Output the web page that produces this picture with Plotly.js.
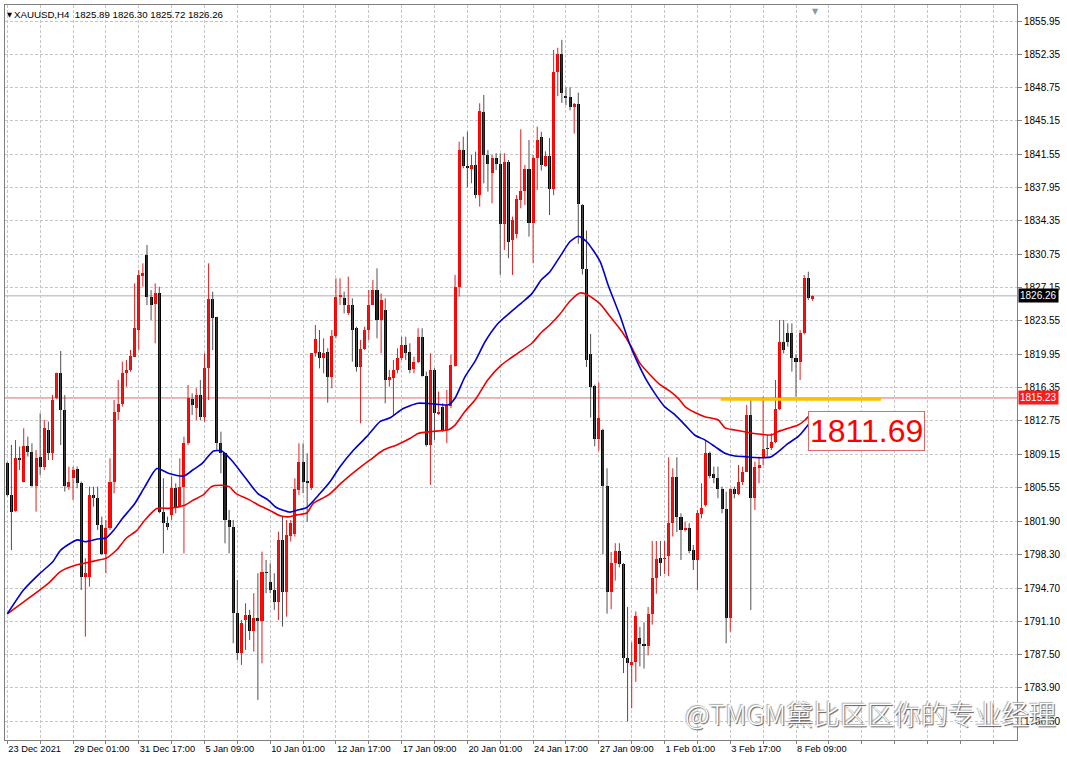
<!DOCTYPE html>
<html><head><meta charset="utf-8">
<script src="https://cdn.plot.ly/plotly-3.0.1.min.js"></script>
<style>html,body{margin:0;padding:0;background:#fff;}#chart{width:1067px;height:760px;}</style>
</head><body><div id="chart"></div>
<script>
// ---- data (XAUUSD H4) ----
const open = [
1808.17,1804.75,1803.06,1808.71,1806.19,1810.04,1809.43,1805.72,1808.82,1807.81,
1811.77,1809.25,1815.19,1817.89,1813.93,1805.65,1806.55,1807.52,1806.08,1795.86,
1795.86,1804.75,1804.39,1801.51,1798.37,1801.15,1806.12,1813.75,1814.58,1817.89,
1818.25,1819.69,1822.57,1828.4,1830.67,1826.17,1825.38,1826.53,1802.95,1801.69,
1802.59,1805.47,1803.49,1805.65,1810.33,1815.08,1814.11,1815.55,1813.21,1818.43,
1825.88,1823.94,1810.33,1809.25,1802.05,1801.33,1791.97,1787.72,1791.25,1791.79,
1790.1,1791.43,1791.17,1796.47,1795.39,1794.49,1793.23,1799.89,1794.31,1800.31,
1800.55,1805.29,1808.35,1806.26,1805.47,1820.05,1820.23,1819.51,1820.23,1817.46,
1821.92,1826.17,1825.99,1824.37,1825.27,1822.75,1818.61,1820.48,1822.57,1825.27,
1826.89,1823.65,1824.73,1817.17,1817.35,1818.25,1819.51,1820.95,1820.24,1818.33,
1819.16,1821.86,1817.6,1810.16,1818.26,1813.5,1814.3,1811.78,1814.37,1818.69,
1827.19,1842.02,1840.29,1839.96,1840.4,1837.16,1846.16,1841.48,1839.57,1841.12,
1840.5,1834.03,1840.76,1832.3,1832.94,1836.62,1837.59,1839.96,1834.1,1841.12,
1843.4,1840.31,1841.4,1837.84,1850.44,1852.35,1847.83,1847.73,1846.64,1846.97,
1836.03,1829.18,1820.0,1816.52,1810.82,1811.77,1805.73,1794.31,1797.4,1798.74,
1797.31,1787.18,1786.37,1786.7,1789.32,1788.6,1788.46,1791.93,1795.74,1797.97,
1797.78,1798.12,1801.68,1806.68,1802.41,1800.97,1801.15,1798.81,1797.73,1802.66,
1803.67,1809.25,1806.98,1806.62,1805.4,1803.24,1791.5,1805.4,1804.82,1806.19,
1807.27,1813.39,1804.39,1807.7,1808.8,1809.79,1809.79,1810.44,1814.04,1821.31,
1822.21,1822.21,1819.58,1819.08,1822.21,1828.22,1825.89];
const high = [
1808.3,1810.15,1810.69,1809.97,1811.95,1811.05,1810.33,1809.6,1813.57,1812.85,
1812.67,1815.55,1817.95,1820.3,1815.55,1807.81,1807.81,1807.81,1806.2,1797.9,
1805.65,1805.65,1805.65,1802.41,1802.05,1808.71,1815.01,1817.17,1819.15,1819.33,
1820.41,1827.61,1829.05,1829.77,1831.75,1826.89,1827.61,1827.25,1806.55,1802.41,
1806.73,1806.01,1808.71,1811.05,1816.63,1815.73,1816.27,1817.17,1820.05,1829.77,
1826.71,1824.0,1811.59,1809.3,1803.13,1802.05,1795.57,1791.25,1793.05,1792.33,
1794.13,1796.29,1798.63,1797.73,1797.37,1796.29,1800.79,1802.41,1802.05,1802.05,
1806.55,1810.33,1810.33,1809.25,1820.1,1823.11,1822.57,1821.67,1820.59,1822.57,
1828.15,1828.15,1826.71,1828.33,1825.99,1822.93,1821.49,1822.93,1826.89,1827.97,
1829.23,1826.53,1825.99,1818.25,1819.33,1820.59,1821.85,1821.85,1821.13,1819.7,
1822.76,1822.76,1818.08,1820.06,1818.44,1815.92,1814.66,1816.1,1819.88,1828.52,
1842.92,1843.46,1843.99,1841.48,1841.84,1847.06,1847.96,1842.02,1841.48,1841.66,
1841.66,1841.66,1840.94,1834.82,1837.16,1844.25,1840.4,1843.1,1841.48,1844.54,
1843.99,1841.88,1843.31,1852.82,1853.06,1853.92,1848.78,1848.78,1847.1,1848.21,
1836.17,1833.32,1822.14,1816.67,1816.9,1811.91,1807.63,1798.59,1799.54,1799.54,
1797.4,1792.65,1788.84,1792.17,1790.5,1790.98,1792.65,1799.78,1799.78,1799.78,
1799.78,1808.82,1807.63,1808.82,1802.77,1801.87,1801.69,1799.35,1803.13,1806.01,
1810.69,1809.43,1807.81,1807.81,1805.65,1805.11,1805.47,1805.65,1807.99,1807.81,
1814.47,1815.01,1808.35,1808.89,1815.37,1811.23,1811.41,1817.17,1823.65,1823.65,
1823.29,1823.29,1819.94,1822.57,1828.51,1828.87,1826.30];
const low = [
1804.6,1798.8,1802.95,1807.45,1806.1,1808.9,1805.65,1802.95,1806.9,1807.45,
1808.53,1808.53,1815.1,1810.15,1805.11,1805.3,1804.2,1805.47,1794.49,1789.45,
1794.85,1803.49,1800.97,1798.27,1796.29,1800.97,1804.93,1812.85,1814.29,1816.45,
1818.07,1819.69,1820.41,1827.25,1825.27,1823.65,1821.13,1802.77,1798.45,1800.97,
1802.05,1802.77,1803.4,1798.45,1810.15,1813.39,1812.85,1812.85,1812.67,1815.01,
1820.41,1809.61,1807.09,1799.53,1798.45,1788.73,1786.93,1786.39,1788.01,1789.09,
1787.83,1782.61,1786.57,1794.13,1794.13,1792.33,1791.25,1790.53,1791.61,1799.71,
1800.25,1804.75,1804.93,1801.87,1805.29,1819.69,1818.43,1817.89,1814.72,1816.27,
1821.67,1825.27,1824.37,1824.19,1819.15,1818.07,1812.49,1820.41,1821.49,1825.27,
1821.67,1820.05,1814.65,1816.45,1813.39,1817.89,1819.33,1819.33,1817.9,1817.9,
1818.98,1817.53,1809.98,1805.84,1810.7,1813.4,1811.6,1810.34,1814.12,1818.62,
1826.18,1840.04,1837.98,1838.42,1836.8,1835.9,1838.42,1837.52,1836.26,1839.86,
1828.52,1831.22,1830.32,1828.52,1832.48,1835.72,1836.08,1832.66,1829.78,1837.7,
1839.8,1840.2,1834.99,1837.13,1847.83,1847.1,1846.88,1846.3,1843.79,1831.89,
1828.56,1818.57,1813.1,1810.01,1809.53,1798.36,1791.93,1792.41,1795.5,1796.93,
1785.51,1780.28,1781.7,1784.56,1786.23,1785.99,1787.42,1790.74,1794.07,1795.98,
1796.22,1795.98,1800.26,1800.73,1797.73,1800.79,1798.45,1796.65,1794.49,1802.23,
1803.49,1806.55,1806.01,1804.39,1802.77,1788.73,1789.99,1804.39,1804.75,1805.83,
1807.27,1792.33,1803.13,1806.01,1807.99,1808.89,1809.61,1810.33,1813.93,1820.05,
1820.77,1818.07,1815.37,1817.17,1822.1,1825.81,1825.72];
const close = [
1804.75,1802.95,1808.71,1808.5,1810.04,1809.43,1805.72,1808.71,1807.81,1811.95,
1809.25,1815.01,1817.89,1813.93,1805.72,1806.12,1807.45,1806.08,1795.86,1796.36,
1804.75,1804.39,1801.51,1798.37,1801.15,1806.12,1813.75,1814.58,1817.96,1818.25,
1819.76,1822.75,1828.51,1828.76,1826.17,1825.27,1826.53,1802.95,1801.69,1801.33,
1805.47,1803.49,1805.65,1810.33,1815.19,1814.47,1815.55,1813.21,1818.43,1825.88,
1823.83,1810.33,1809.25,1802.05,1801.33,1791.97,1787.65,1790.95,1791.79,1790.1,
1791.43,1791.17,1796.47,1796.29,1794.49,1793.23,1799.89,1794.31,1800.43,1801.69,
1805.35,1808.35,1806.19,1806.01,1820.05,1821.56,1819.51,1820.12,1817.46,1821.92,
1826.17,1826.4,1825.27,1825.27,1822.57,1818.61,1820.48,1822.57,1825.27,1826.89,
1823.65,1825.81,1817.17,1817.53,1818.25,1819.51,1820.95,1820.05,1818.26,1819.16,
1821.86,1817.6,1810.16,1818.26,1813.58,1813.76,1811.78,1814.48,1818.8,1827.26,
1842.02,1840.29,1840.04,1840.4,1837.16,1846.26,1841.48,1840.5,1841.12,1840.5,
1834.03,1840.76,1832.12,1834.46,1836.69,1837.59,1839.96,1834.1,1841.12,1843.1,
1840.35,1841.4,1837.84,1850.44,1852.35,1848.21,1847.59,1846.64,1846.97,1836.17,
1829.18,1819.38,1816.43,1810.82,1813.1,1805.73,1794.31,1797.4,1798.74,1797.31,
1787.18,1786.56,1786.7,1791.69,1788.6,1788.46,1791.93,1795.74,1797.88,1797.4,
1797.97,1801.68,1806.68,1802.4,1800.97,1801.22,1798.7,1797.73,1802.77,1803.31,
1809.25,1806.84,1806.55,1805.4,1803.24,1791.5,1805.4,1804.82,1806.19,1807.2,
1813.39,1804.39,1807.81,1807.99,1809.71,1809.68,1810.44,1814.04,1821.31,1820.41,
1821.24,1819.58,1819.08,1822.21,1828.22,1825.99,1826.26];

// moving averages (bar position, price)
const maBlueX = [0,4,8,11,13,17,19,22,24,26,28,31,33.5,36.4,39.2,43,45.3,47.3,50.2,52.2,54.6,57.8,61,63.5,65.5,68.8,70.5,72.9,76.1,78.6,81,84.3,87.5,90.8,93.2,96.4,100,103.3,107.4,109,111.4,114,116.3,119.5,122.8,125.2,127.7,130,132,134.5,137,139,141,144.3,146.3,149.2,151.6,153.2,155.6,158,160,162.3,165,167.4,169.8,172.3,174.7,177.1,179.6,182,184.4,186,187.7,190.1,192.5,194.6,196];
const maBlueY = [1791.9,1794.5,1796.3,1797.5,1798.8,1799.9,1799.7,1800.0,1800.1,1801.0,1802.2,1803.8,1805.65,1807.6,1807.1,1806.8,1807.5,1808.1,1809.5,1809.5,1808.5,1806.7,1804.9,1804.2,1803.4,1802.9,1803.1,1803.4,1804.9,1806.2,1807.8,1809.6,1811.05,1812.7,1813.1,1814.1,1814.66,1814.6,1814.5,1815.2,1817.5,1819.3,1821.3,1823.3,1824.6,1825.5,1826.5,1828.0,1828.8,1830.47,1832.13,1832.7,1832.13,1829.99,1827.37,1824.05,1820.95,1819.29,1817.15,1815.48,1814.3,1813.5,1812.3,1811.2,1810.7,1809.97,1809.25,1808.96,1808.89,1808.8,1808.78,1808.89,1809.43,1810.33,1811.05,1812.13,1813.0];
const maRedX = [0,4,10,13,17,19,22,24,26.6,29,31.5,33.5,36.4,39.2,43,45.3,47.7,49.7,52.2,54,55.8,58.6,61,64,66.4,68.8,70.5,72.9,74.5,78.2,81.4,85.1,88.3,91.6,94.8,98.1,100,103.3,107.4,109,111.4,114,117,120.3,124.4,127.7,130,132,134.5,137,139.4,141.4,144.3,146.7,149.6,152,153.9,156.4,158.9,161.3,163.5,165,167.4,169.8,173.1,174.7,177.1,180.4,183.6,186,187.7,190.1,192.5,194.2,196];
const maRedY = [1791.9,1793.2,1795.2,1796.5,1797.2,1797.4,1797.7,1797.9,1798.8,1800.1,1800.9,1802.05,1803.3,1803.3,1803.6,1804.2,1804.75,1805.65,1805.8,1805.65,1804.86,1804.3,1803.7,1803.06,1802.5,1802.4,1802.6,1802.8,1803.85,1804.75,1806.08,1807.45,1808.53,1809.6,1810.15,1810.87,1811.4,1811.6,1811.8,1812.3,1813.76,1815.1,1817.2,1818.8,1820.1,1821.14,1822.3,1823.09,1824.28,1825.7,1826.57,1826.33,1825.4,1824.05,1822.4,1820.7,1819.05,1817.77,1816.67,1815.96,1815.1,1814.3,1813.65,1813.2,1812.85,1812.0,1811.77,1811.5,1811.3,1811.23,1811.6,1811.95,1812.3,1812.85,1813.7];

// axis ticks
const xGridIdx = [0,8,16,24,32,40,48,56,64,72,80,88,96,104,112,120,128,136,144,152,160,168,176,184,192,200,208,216,224,232,240];
const xGridText = ['23 Dec 2021','','29 Dec 01:00','','31 Dec 17:00','','5 Jan 09:00','','10 Jan 01:00','','12 Jan 17:00','','17 Jan 09:00','','20 Jan 01:00','','24 Jan 17:00','','27 Jan 09:00','','1 Feb 01:00','','3 Feb 17:00','','8 Feb 09:00','','','','','',''];
const yTickVals = [1855.95,1852.35,1848.75,1845.15,1841.55,1837.95,1834.35,1830.75,1827.15,1823.55,1819.95,1816.35,1812.75,1809.15,1805.55,1801.90,1798.30,1794.70,1791.10,1787.50,1783.90,1780.30];
const yTickText = ['1855.95','1852.35','1848.75','1845.15','1841.55','1837.95','1834.35','1830.75','1827.15','1823.55','1819.95','1816.35','1812.75','1809.15','1805.55','1801.90','1798.30','1794.70','1791.10','1787.50','1783.90','1780.30'];

// levels and labels
const bidPrice = 1826.26;
const redLevel = 1815.23;
const yellowLevel = 1815.08;
const yellowFrom = 173.7, yellowTo = 212.7;
const boxLabel = '1811.69';
const boxLabelX = 194.9, boxLabelY = 1811.71;
const headerText = 'XAUUSD,H4  1825.89 1826.30 1825.72 1826.26';
const watermark = '@TMGM黛比区区你的专业经理';

// ---- build traces ----
const idx = open.map((_, i) => i);
const bullX = [], bullY = [], bearX = [], bearY = [];
idx.forEach(i => {
  if (close[i] >= open[i]) { bullX.push(i, i, null); bullY.push(low[i], high[i], null); }
  else { bearX.push(i, i, null); bearY.push(low[i], high[i], null); }
});
const bodyBase = idx.map(i => Math.min(open[i], close[i]));
const bodyLen = idx.map(i => Math.max(Math.abs(close[i] - open[i]), 0.11));
const bodyColor = idx.map(i => close[i] >= open[i] ? '#ff0000' : '#000000');

const traces = [
  {type:'scatter', mode:'lines', x:bearX, y:bearY, line:{color:'#505050', width:1}, hoverinfo:'skip', connectgaps:false},
  {type:'scatter', mode:'lines', x:bullX, y:bullY, line:{color:'#e51c1c', width:1}, hoverinfo:'skip', connectgaps:false},
  {type:'bar', x:idx, base:bodyBase, y:bodyLen, width:0.74, marker:{color:bodyColor, line:{width:0}}, hoverinfo:'skip'},
  {type:'scatter', mode:'lines', x:maRedX, y:maRedY, line:{color:'#ee0000', width:1.6, shape:'spline', smoothing:0.6}, hoverinfo:'skip'},
  {type:'scatter', mode:'lines', x:maBlueX, y:maBlueY, line:{color:'#0000cc', width:1.6, shape:'spline', smoothing:0.6}, hoverinfo:'skip'}
];

const axisFont = {family:'Liberation Sans, Arial, sans-serif', size:10, color:'#000'};
const layout = {
  width:1067, height:760,
  margin:{l:5, r:50, t:5, b:20, pad:0},
  paper_bgcolor:'#ffffff', plot_bgcolor:'#ffffff',
  showlegend:false, bargap:0,
  xaxis:{type:'linear', range:[-0.56, 245.8], tickmode:'array', tickvals:xGridIdx, ticktext:xGridText,
    tickangle:0, ticklabelposition:'outside right', ticks:'outside', ticklen:3, tickcolor:'#808080',
    ticklabelstandoff:0, automargin:false,
    showgrid:true, gridcolor:'#c6c6c6', griddash:'3px,2px', gridwidth:1,
    showline:true, mirror:true, linecolor:'#7f7f7f', linewidth:1, zeroline:false,
    tickfont:{family:'Liberation Sans, Arial, sans-serif', size:9.3, color:'#000'}, fixedrange:true},
  yaxis:{side:'right', range:[1778.28, 1857.68], tickmode:'array', tickvals:yTickVals, ticktext:yTickText,
    ticks:'outside', ticklen:4, tickcolor:'#808080', automargin:false,
    showgrid:true, gridcolor:'#c6c6c6', griddash:'3px,2px', gridwidth:1,
    showline:true, mirror:true, linecolor:'#7f7f7f', linewidth:1, zeroline:false,
    tickfont:axisFont, fixedrange:true},
  shapes:[
    {type:'line', xref:'paper', x0:0, x1:1, yref:'y', y0:bidPrice, y1:bidPrice, line:{color:'#a8b0b8', width:1}, layer:'below'},
    {type:'line', xref:'paper', x0:0, x1:1, yref:'y', y0:redLevel, y1:redLevel, line:{color:'#e06a6a', width:1}, layer:'below'},
    {type:'line', xref:'x', x0:yellowFrom, x1:yellowTo, yref:'y', y0:yellowLevel, y1:yellowLevel, line:{color:'#ffc000', width:3}, layer:'above'}
  ],
  annotations:[
    {xref:'paper', yref:'paper', x:0.0, y:0.994, xanchor:'left', yanchor:'top', showarrow:false, xshift:0,
     text:'\u25BC', font:{family:'DejaVu Sans', size:6.5, color:'#000'}},
    {xref:'paper', yref:'paper', x:0.0066, y:0.997, xanchor:'left', yanchor:'top', showarrow:false,
     text:headerText, font:{family:'Liberation Sans, Arial, sans-serif', size:9.7, color:'#000'}},
    {xref:'paper', yref:'paper', x:0.8005, y:1.0, xanchor:'center', yanchor:'top', showarrow:false,
     text:'\u25BC', font:{family:'DejaVu Sans', size:8, color:'#8a9aa0'}},
    {xref:'x', yref:'y', x:boxLabelX, y:boxLabelY, xanchor:'left', yanchor:'middle', showarrow:false,
     text:boxLabel, bgcolor:'#ffffff', bordercolor:'#e06a6a', borderwidth:1, borderpad:1,
     font:{family:'Liberation Sans, Arial, sans-serif', size:32, color:'#ff0000'}},
    {xref:'paper', yref:'y', x:1, y:bidPrice, xanchor:'left', yanchor:'middle', xshift:1, showarrow:false,
     text:bidPrice.toFixed(2), bgcolor:'#000000', borderpad:1,
     font:{family:'Liberation Sans, Arial, sans-serif', size:10, color:'#ffffff'}},
    {xref:'paper', yref:'y', x:1, y:redLevel, xanchor:'left', yanchor:'middle', xshift:1, showarrow:false,
     text:redLevel.toFixed(2), bgcolor:'#ff1a1a', borderpad:1,
     font:{family:'Liberation Sans, Arial, sans-serif', size:10, color:'#ffffff'}},
    {xref:'paper', yref:'paper', x:0.670, y:0.0354, xanchor:'left', yanchor:'middle', showarrow:false,
     text:watermark, font:{family:'Noto Sans CJK SC, sans-serif', size:27, color:'#ffffff', weight:300,
       shadow:'1px 1px 1px #555, -1px -1px 1px #aaa'}}
  ]
};
Plotly.newPlot('chart', traces, layout, {staticPlot:true, displayModeBar:false});
</script></body></html>
